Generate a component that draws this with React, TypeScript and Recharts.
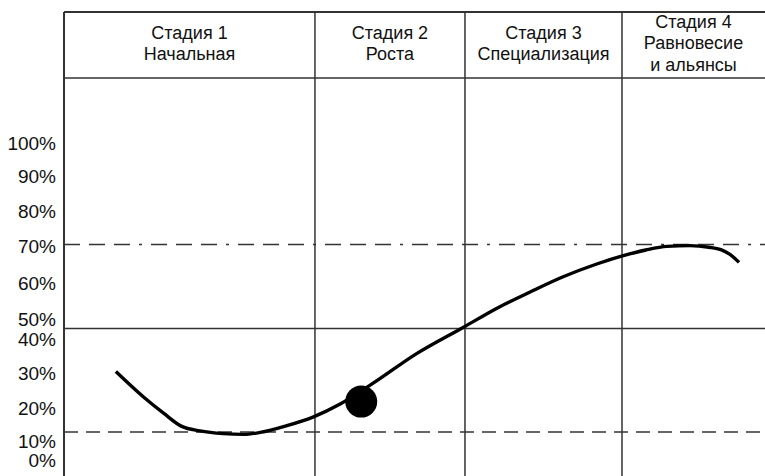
import React from 'react';
import {
  LineChart,
  Line,
  XAxis,
  YAxis,
  ReferenceLine,
  ReferenceArea,
  ReferenceDot,
} from 'recharts';

// stage headers and the x positions of their borders (x axis runs 0..100)
const stageTitles = [
  ['Стадия 1', 'Начальная'],
  ['Стадия 2', 'Роста'],
  ['Стадия 3', 'Специализация'],
  ['Стадия 4', 'Равновесие', 'и альянсы'],
];
const stageBounds = [0, 35.8, 57.2, 79.6, 100];

// y axis runs 0..116 (header band on top); labels sit on uneven levels
const yTickValues = [83.25, 74.9, 66.1, 57.5, 48.25, 39.1, 34.1, 25.75, 17, 8.75, 3.9];
const yTickLabels = ['100%', '90%', '80%', '70%', '60%', '50%', '40%', '30%', '20%', '10%', '0%'];
const headerLevel = 99.5;
const topLevel = 116;
const upperDashLevel = 57.9;
const middleLevel = 36.9;
const lowerDashLevel = 11;

// the life-cycle curve
const curveX = [7.4, 11.3, 14.2, 16.8, 19.4, 22.7, 25.6, 28, 31.8, 35.6, 39.4, 44.1, 50.3, 57.2, 61.7, 66.5, 71.2, 76, 79.8, 83, 86, 89.3, 92, 93.7, 95, 96.3];
const curveY = [26.1, 19.8, 15.7, 12.4, 11.3, 10.6, 10.4, 10.9, 12.6, 14.8, 18, 23.2, 30.6, 37.4, 41.9, 46, 49.8, 53, 55.1, 56.5, 57.4, 57.6, 57.2, 56.6, 55.4, 53.4];
const marker = { x: 42.4, y: 18.6 };

const data = curveX.map((x, i) => ({ x, y: curveY[i] }));

const FONT = '"Liberation Sans", Arial, sans-serif';
const INK = '#111';
const GRID = '#333';

function YTick(props: any) {
  const { x, y, index } = props;
  return (
    <text x={x} y={y} dy="0.36em" textAnchor="end" fontFamily={FONT} fontSize={19} fill={INK}>
      {yTickLabels[index]}
    </text>
  );
}

function StageLabel(props: any) {
  const { viewBox, lines } = props;
  if (!viewBox) return null;
  const cx = viewBox.x + viewBox.width / 2;
  const cy = viewBox.y + viewBox.height / 2 - 2;
  const lh = 21.5;
  const first = cy - ((lines.length - 1) * lh) / 2;
  return (
    <text textAnchor="middle" fontFamily={FONT} fontSize={18} fill={INK}>
      {lines.map((l: string, i: number) => (
        <tspan key={i} x={cx} y={first + i * lh} dy="0.36em">
          {l}
        </tspan>
      ))}
    </text>
  );
}

export default function App() {
  return (
    <div style={{ width: 765, height: 476, background: '#fff' }}>
      <style>{'body{margin:0}'}</style>
      <LineChart width={765} height={476} data={data} margin={{ top: 12, right: 0, bottom: 0, left: 0 }}>
        <XAxis type="number" dataKey="x" domain={[0, 100]} hide allowDataOverflow />
        <YAxis
          type="number"
          domain={[0, topLevel]}
          ticks={yTickValues}
          interval={0}
          width={64}
          tickLine={false}
          axisLine={{ stroke: GRID, strokeWidth: 2 }}
          tick={<YTick />}
          allowDataOverflow
        />
        <ReferenceLine y={topLevel} stroke={GRID} strokeWidth={2} />
        <ReferenceLine y={headerLevel} stroke={GRID} strokeWidth={1.5} />
        {stageBounds.slice(1, -1).map((b) => (
          <ReferenceLine key={b} x={b} stroke={GRID} strokeWidth={1.5} />
        ))}
        <ReferenceLine y={upperDashLevel} stroke={GRID} strokeWidth={1.5} strokeDasharray="16 9 16 9 16 9 3 9" />
        <ReferenceLine y={middleLevel} stroke={GRID} strokeWidth={1.5} />
        <ReferenceLine y={lowerDashLevel} stroke={GRID} strokeWidth={1.5} strokeDasharray="14 8" />
        {stageTitles.map((lines, i) => (
          <ReferenceArea
            key={i}
            x1={stageBounds[i]}
            x2={stageBounds[i + 1]}
            y1={headerLevel}
            y2={topLevel}
            fill="none"
            fillOpacity={0}
            stroke="none"
            label={<StageLabel lines={lines} />}
          />
        ))}
        <Line
          type="monotone"
          dataKey="y"
          stroke="#000"
          strokeWidth={3.4}
          dot={false}
          activeDot={false}
          isAnimationActive={false}
        />
        <ReferenceDot x={marker.x} y={marker.y} r={16} fill="#000" stroke="none" />
      </LineChart>
    </div>
  );
}
